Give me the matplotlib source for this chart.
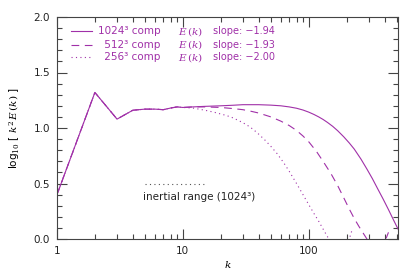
import numpy as np
import matplotlib
matplotlib.use('Agg')
import matplotlib.pyplot as plt
from matplotlib.ticker import FixedLocator, MultipleLocator, NullFormatter

# spectra: log10[k^2 E(k)]
k_low = [1, 2, 3, 4, 5, 6, 7, 8, 9, 10]
v_low = [0.40, 1.32, 1.08, 1.16, 1.17, 1.17, 1.165, 1.18, 1.19, 1.185]

k_1024 = k_low + [12, 15, 20, 25, 30, 40, 50, 60, 70, 80, 90, 100, 110, 120,
                  130, 141, 155, 170, 190, 210, 230, 260, 290, 320, 354, 390,
                  430, 470, 512]
v_1024 = v_low + [1.19, 1.195, 1.20, 1.205, 1.21, 1.21, 1.206, 1.20, 1.19,
                  1.178, 1.162, 1.143, 1.122, 1.10, 1.077, 1.05, 1.015, 0.975,
                  0.92, 0.865, 0.81, 0.72, 0.63, 0.545, 0.45, 0.36, 0.265,
                  0.175, 0.09]

k_512 = k_low + [12, 15, 20, 25, 30, 35, 40, 50, 60, 70, 80, 90, 100, 115,
                 130, 150, 170, 190, 210, 230, 250, 270, 290, 310, 340, 380,
                 400, 410, 420, 430]
v_512 = v_low + [1.19, 1.19, 1.185, 1.175, 1.165, 1.15, 1.135, 1.10, 1.062,
                 1.022, 0.978, 0.928, 0.876, 0.79, 0.70, 0.59, 0.48, 0.37, 0.27,
                 0.185, 0.115, 0.055, 0.0, -0.05, -0.1, -0.1, -0.05, 0.0, 0.03,
                 0.06]

k_256 = k_low + [12, 15, 18, 21, 24, 28, 32, 36, 40, 45, 50, 56, 63, 70, 80,
                 90, 100, 110, 120, 130, 141, 155, 180, 200, 210, 216, 222]
v_256 = v_low + [1.18, 1.16, 1.14, 1.12, 1.10, 1.065, 1.03, 0.99, 0.945, 0.89,
                 0.835, 0.77, 0.69, 0.61, 0.50, 0.40, 0.31, 0.23, 0.16, 0.09,
                 0.02, -0.05, -0.12, -0.08, 0.0, 0.045, 0.09]

labels = ['1024\u00b3 comp', ' 512\u00b3 comp', ' 256\u00b3 comp']
slopes = ['slope: \u22121.94', 'slope: \u22121.93', 'slope: \u22122.00']
styles = ['-', (0, (7, 5)), (0, (1, 3))]

purple = '#a030a8'
axcol = '#444444'

plt.rcParams['font.family'] = ['DejaVu Sans']
plt.rcParams['font.size'] = 7.5
plt.rcParams['mathtext.fontset'] = 'dejavuserif'

fig = plt.figure(figsize=(4.15, 2.76), dpi=100)
ax = fig.add_axes([57 / 415, 37 / 276, 341 / 415, 222 / 276])

for kk, vv, ls in zip([k_1024, k_512, k_256], [v_1024, v_512, v_256], styles):
    ax.plot(kk, vv, color=purple, lw=0.8, linestyle=ls)

ax.set_xscale('log')
ax.set_xlim(1, 512)
ax.set_ylim(0, 2.0)

ax.xaxis.set_major_locator(FixedLocator([1, 10, 100]))
ax.xaxis.set_major_formatter(plt.FixedFormatter(['1', '10', '100']))
ax.xaxis.set_minor_locator(FixedLocator([m * 10 ** e for e in range(3) for m in range(2, 10)]))
ax.xaxis.set_minor_formatter(NullFormatter())
ax.yaxis.set_major_locator(MultipleLocator(0.5))
ax.yaxis.set_minor_locator(MultipleLocator(0.1))
ax.yaxis.set_major_formatter(plt.FormatStrFormatter('%.1f'))

ax.tick_params(which='both', direction='in', top=True, right=True,
               color=axcol, labelcolor='#222222', width=0.8)
ax.tick_params(which='major', length=7, pad=5)
ax.tick_params(which='minor', length=3.5)
for s in ax.spines.values():
    s.set_color(axcol)
    s.set_linewidth(0.8)

ax.set_xlabel('$k$', labelpad=2)
ax.set_ylabel(r'log$_{10}$ [ $k^2\,E\,(k)$ ]', labelpad=8)

# legend drawn by hand, IDL style
rows = [0.935, 0.876, 0.818]
for y, lab, sl, ls in zip(rows, labels, slopes, styles):
    ax.plot([0.04, 0.102], [y, y], transform=ax.transAxes, color=purple,
            lw=0.8, linestyle=ls)
    ax.text(0.303, y, lab, transform=ax.transAxes, color=purple,
            ha='right', va='center', fontsize=7.5)
    ax.text(0.355, y, r'$E\,(k)$', transform=ax.transAxes, color=purple,
            ha='left', va='center', fontsize=7.5)
    ax.text(0.458, y, sl, transform=ax.transAxes, color=purple,
            ha='left', va='center', fontsize=7)

ax.plot([5, 15], [0.5, 0.5], color='#555555', lw=0.8, linestyle=(0, (1, 3)))
ax.text(4.8, 0.375, 'inertial range (1024\u00b3)', color='#222222',
        ha='left', va='center')

fig.savefig('out.png', dpi=100)
